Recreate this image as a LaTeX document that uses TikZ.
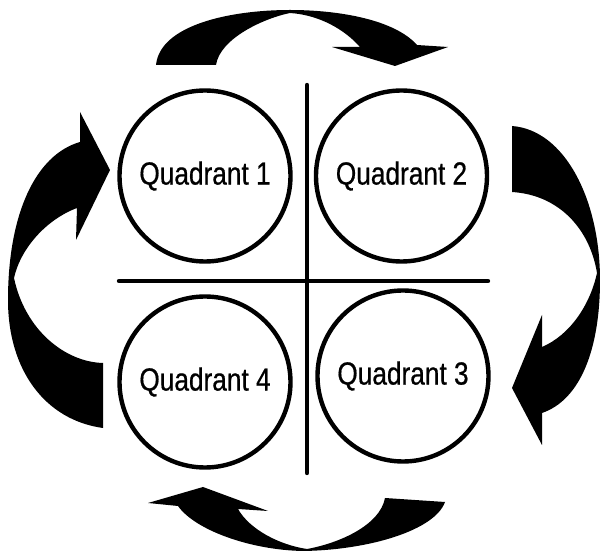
\documentclass[tikz,border=0pt]{standalone}
\usepackage{fontspec}
\setmainfont{Liberation Sans}[FakeStretch=0.82, FakeBold=0.6]
\usepackage{tikz}
\usetikzlibrary{positioning, calc}
\tikzset{
  quad/.style={
    circle, draw, line width=2.2pt,
    minimum size=85.5pt, inner sep=0pt,
    font=\fontsize{16}{19}\selectfont
  },
  divider/.style={line width=2.2pt, line cap=round},
  turnarrow/.style={fill=black, draw=none},
}

\begin{document}
\begin{tikzpicture}[x=0.5pt, y=-0.5pt]
    \useasboundingbox (0,0) rectangle (600,555);

    \node[quad] (q1) at (205,176) {Quadrant 1};
    \node[quad] (q2) at (401.5,176) {Quadrant 2};
    \node[quad] (q4) at (205,382) {Quadrant 4};
    \node[quad] (q3) at (403,376) {Quadrant 3};

    \draw[divider] (307,85) -- (307,473);
    \draw[divider] (119,281) -- (488,281);

    \fill[turnarrow] (156,65) .. controls (160,25) and (230,10) .. (290,10)
      .. controls (340,10) and (395,20) .. (417,45)
      -- (448,47) -- (395,66) -- (332,47) -- (360,47)
      .. controls (345,30) and (320,15) .. (290,13)
      .. controls (265,18) and (220,38) .. (216,65) -- cycle;
    \fill[turnarrow] (512,126) .. controls (565,130) and (600,200) .. (600,280)
      .. controls (600,350) and (580,400) .. (542,413)
      -- (542,445) -- (512,388) -- (542,315) -- (542,347)
      .. controls (570,335) and (590,305) .. (597,273)
      .. controls (590,230) and (560,195) .. (512,192) -- cycle;
    \fill[turnarrow] (445,502) .. controls (435,530) and (370,550) .. (303,551)
      .. controls (250,550) and (195,530) .. (178,506)
      -- (148,503) -- (203,487) -- (268,511) -- (238,509)
      .. controls (250,530) and (280,545) .. (307,549)
      .. controls (340,543) and (380,525) .. (385,498) -- cycle;
    \fill[turnarrow] (103,428) .. controls (45,420) and (8,370) .. (8,300)
      .. controls (8,215) and (35,155) .. (80,142)
      -- (80,112) -- (110,170) -- (76,240) -- (77,208)
      .. controls (45,220) and (20,250) .. (14,278)
      .. controls (25,330) and (65,362) .. (103,363) -- cycle;
\end{tikzpicture}
\end{document}
